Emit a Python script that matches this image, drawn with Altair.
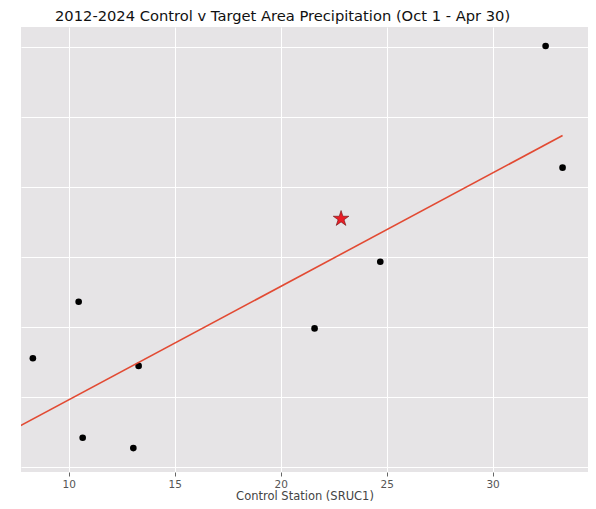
import altair as alt
import pandas as pd

# Control station (x) vs target area (y) precipitation, seasonal totals
control = [8.31, 10.47, 10.66, 13.05, 13.3, 21.6, 24.7, 32.5, 33.3]
target = [22.77, 26.80, 17.09, 16.35, 22.22, 24.90, 29.66, 45.07, 36.38]

# Current season (star)
cur_control = [22.85]
cur_target = [32.73]

x_ticks = [10, 15, 20, 25, 30]
y_grid = [15, 20, 25, 30, 35, 40, 45]

df = pd.DataFrame({"control": control, "target": target})
cur = pd.DataFrame({"control": cur_control, "target": cur_target})

xscale = alt.Scale(domain=[7.75, 34.5], nice=False, zero=False)
yscale = alt.Scale(domain=[14.64, 46.43], nice=False, zero=False)

xaxis = alt.Axis(title="Control Station (SRUC1)", values=x_ticks,
                 grid=True, gridColor="white", gridWidth=1, gridOpacity=1,
                 domain=False, tickColor="#666666", tickSize=4,
                 labelColor="#555555", labelFontSize=10.5,
                 labelPadding=3, titleFontSize=11.5,
                 titleColor="#444444", titleFontWeight="normal",
                 titlePadding=1, labelFont="DejaVu Sans",
                 titleFont="DejaVu Sans")
yaxis = alt.Axis(title=None, values=y_grid, labels=False, ticks=False,
                 domain=False, grid=True, gridColor="white", gridWidth=1,
                 gridOpacity=1)

STAR = ("M0,-1L0.2245,-0.309L0.951,-0.309L0.363,0.118L0.588,0.809L0,0.382"
        "L-0.588,0.809L-0.363,0.118L-0.951,-0.309L-0.2245,-0.309Z")

base = alt.Chart(df)

pts = base.mark_circle(size=44, color="black", opacity=1).encode(
    x=alt.X("control:Q", scale=xscale, axis=xaxis),
    y=alt.Y("target:Q", scale=yscale, axis=yaxis))

fit = base.transform_regression(
    "control", "target", extent=[7.0, 33.3]
).mark_line(color="#E24A33", strokeWidth=1.6, clip=True).encode(
    x=alt.X("control:Q", scale=xscale),
    y=alt.Y("target:Q", scale=yscale))

star = alt.Chart(cur).mark_point(shape=STAR, size=270, filled=True,
                                 fill="#EA1D26", stroke="#6a1010",
                                 strokeWidth=0.6, opacity=1).encode(
    x=alt.X("control:Q", scale=xscale),
    y=alt.Y("target:Q", scale=yscale))

chart = alt.layer(pts, fit, star).properties(
    width=567, height=445,
    padding={"left": 13, "top": 1, "right": 0, "bottom": 0},
    title=alt.TitleParams(
        "2012-2024 Control v Target Area Precipitation (Oct 1 - Apr 30)",
        anchor="start", dx=34, fontSize=14.7, font="DejaVu Sans",
        fontWeight="normal", color="#111111", offset=3),
).configure_view(fill="#E6E4E6", stroke=None)

chart.save("out.html", embed_options={"renderer": "svg", "actions": False})
